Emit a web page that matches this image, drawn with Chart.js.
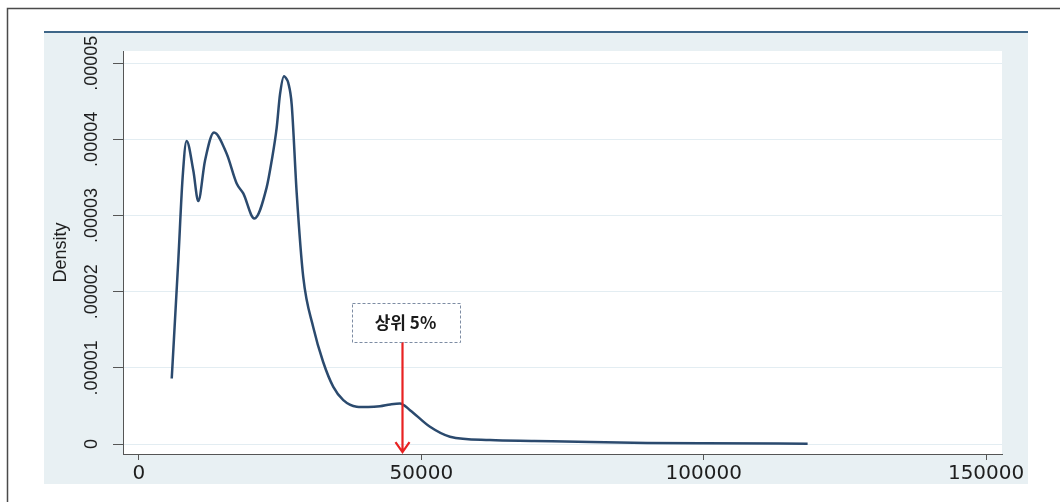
<!DOCTYPE html>
<html>
<head>
<meta charset="utf-8">
<script src="https://cdn.jsdelivr.net/npm/chart.js@4/dist/chart.umd.min.js"></script>
<style>
  html, body { margin: 0; padding: 0; background: #ffffff; }
  canvas { display: block; }
</style>
</head>
<body>
<canvas id="densityChart" width="1060" height="502"></canvas>
<script>
// kernel density of income
const incomeValues = [5800, 6960, 7730, 8430, 9620, 10500, 11690, 13280, 15530, 17300, 18470, 20420,
  22610, 23500, 24380, 24970, 25680, 26150, 26440, 27040, 27930, 29090, 30870, 32600, 34410, 36180,
  38550, 40600, 42680, 44500, 46220, 47990, 51530, 55070, 62160, 70000, 80000, 90000, 100000, 118400];
const densityValues = [0.86e-5, 2.41e-5, 3.50e-5, 3.98e-5, 3.59e-5, 3.19e-5, 3.72e-5, 4.09e-5, 3.81e-5,
  3.42e-5, 3.29e-5, 2.96e-5, 3.37e-5, 3.72e-5, 4.15e-5, 4.59e-5, 4.83e-5, 4.79e-5, 4.74e-5, 4.46e-5,
  3.29e-5, 2.19e-5, 1.53e-5, 1.08e-5, 0.75e-5, 0.576e-5, 0.49e-5, 0.485e-5, 0.495e-5, 0.52e-5,
  0.533e-5, 0.445e-5, 0.226e-5, 0.096e-5, 0.052e-5, 0.04e-5, 0.025e-5, 0.015e-5, 0.01e-5, 0.005e-5];

const xTickValues = [0, 50000, 100000, 150000];
const xTickLabels = ['0', '50000', '100000', '150000'];
const yTickValues = [0, 0.00001, 0.00002, 0.00003, 0.00004, 0.00005];
const yTickLabels = ['0', '.00001', '.00002', '.00003', '.00004', '.00005'];
const yAxisTitle = 'Density';

// 상위 5% 경계
const top5Income = 46500;
const top5Label = '상위 5%';

const points = incomeValues.map((x, i) => ({ x: x, y: densityValues[i] }));

// 배경 패널, 테두리, 주석
const backdropPlugin = {
  id: 'backdrop',
  beforeDraw(chart) {
    const ctx = chart.ctx;
    const a = chart.chartArea;
    ctx.save();
    ctx.fillStyle = '#ffffff';
    ctx.fillRect(0, 0, chart.width, chart.height);
    // outer frame
    ctx.strokeStyle = '#4a4a4a';
    ctx.lineWidth = 1.5;
    ctx.beginPath();
    ctx.moveTo(7.5, chart.height);
    ctx.lineTo(7.5, 8.5);
    ctx.lineTo(chart.width, 8.5);
    ctx.stroke();
    // stata style panel
    ctx.fillStyle = '#e8f0f3';
    ctx.fillRect(44, 32, 984, 452);
    ctx.fillStyle = '#3e6688';
    ctx.fillRect(44, 31, 984, 2);
    ctx.fillStyle = '#ffffff';
    ctx.fillRect(a.left, a.top, a.right - a.left, a.bottom - a.top);
    ctx.restore();
  },
  afterDraw(chart) {
    const ctx = chart.ctx;
    const xs = chart.scales.x;
    const ys = chart.scales.y;
    const a = chart.chartArea;
    ctx.save();
    // y tick labels, rotated
    ctx.fillStyle = '#1e1e1e';
    ctx.font = '18px "Liberation Sans", Arial, sans-serif';
    ctx.textAlign = 'center';
    ctx.textBaseline = 'middle';
    yTickValues.forEach((v, i) => {
      ctx.save();
      ctx.translate(92, ys.getPixelForValue(v));
      ctx.rotate(-Math.PI / 2);
      ctx.fillText(yTickLabels[i], 0, 0);
      ctx.restore();
    });
    // y axis title
    ctx.font = '18px "Liberation Sans", Arial, sans-serif';
    ctx.save();
    ctx.translate(61, (a.top + a.bottom) / 2);
    ctx.rotate(-Math.PI / 2);
    ctx.fillText(yAxisTitle, 0, 0);
    ctx.restore();

    // annotation: arrow + box
    const ax = Math.round(xs.getPixelForValue(top5Income)) + 0.5;
    const tipY = ys.getPixelForValue(0) + 8;
    const boxW = 108, boxH = 39, boxTop = 303;
    const boxLeft = ax + 3 - boxW / 2;
    ctx.strokeStyle = '#e82222';
    ctx.lineWidth = 2.2;
    ctx.beginPath();
    ctx.moveTo(ax, boxTop + boxH);
    ctx.lineTo(ax, tipY);
    ctx.moveTo(ax - 7, tipY - 10);
    ctx.lineTo(ax, tipY);
    ctx.lineTo(ax + 7, tipY - 10);
    ctx.stroke();

    ctx.fillStyle = '#ffffff';
    ctx.fillRect(boxLeft, boxTop, boxW, boxH);
    ctx.strokeStyle = '#7d8ca3';
    ctx.lineWidth = 1;
    ctx.setLineDash([3, 2]);
    ctx.strokeRect(Math.round(boxLeft) + 0.5, boxTop + 0.5, boxW, boxH);
    ctx.setLineDash([]);
    ctx.fillStyle = '#1a1a1a';
    ctx.font = 'bold 17px "Noto Sans CJK KR", sans-serif';
    ctx.textAlign = 'center';
    ctx.textBaseline = 'middle';
    ctx.fillText(top5Label, boxLeft + boxW / 2, boxTop + boxH / 2);
    ctx.restore();
  }
};

new Chart(document.getElementById('densityChart').getContext('2d'), {
  type: 'line',
  data: {
    datasets: [{
      label: 'Density',
      data: points,
      borderColor: '#2b4a6e',
      borderWidth: 2.5,
      pointRadius: 0,
      fill: false,
      cubicInterpolationMode: 'monotone'
    }]
  },
  options: {
    responsive: false,
    animation: false,
    devicePixelRatio: 1,
    layout: { padding: { left: 44, right: 58, top: 51, bottom: 18 } },
    plugins: {
      legend: { display: false },
      tooltip: { enabled: false }
    },
    scales: {
      x: {
        type: 'linear',
        min: -2830,
        max: 152820,
        afterBuildTicks: s => { s.ticks = xTickValues.map(v => ({ value: v })); },
        afterFit: s => { s.height = 30; },
        grid: { drawOnChartArea: false, drawTicks: true, tickLength: 6, tickColor: '#555555', lineWidth: 1 },
        border: { display: true, color: '#555555', width: 1 },
        ticks: {
          autoSkip: false,
          maxRotation: 0,
          padding: 2,
          color: '#1e1e1e',
          font: { family: '"DejaVu Sans", sans-serif', size: 20 },
          callback: (v, i) => xTickLabels[i]
        }
      },
      y: {
        type: 'linear',
        min: -0.00000131,
        max: 0.0000516,
        afterBuildTicks: s => { s.ticks = yTickValues.map(v => ({ value: v })); },
        afterFit: s => { s.width = 79; },
        grid: { drawOnChartArea: true, color: '#e3edf2', lineWidth: 1, drawTicks: true, tickLength: 10, tickColor: '#555555' },
        border: { display: true, color: '#555555', width: 1 },
        ticks: { display: false }
      }
    }
  },
  plugins: [backdropPlugin]
});
</script>
</body>
</html>
